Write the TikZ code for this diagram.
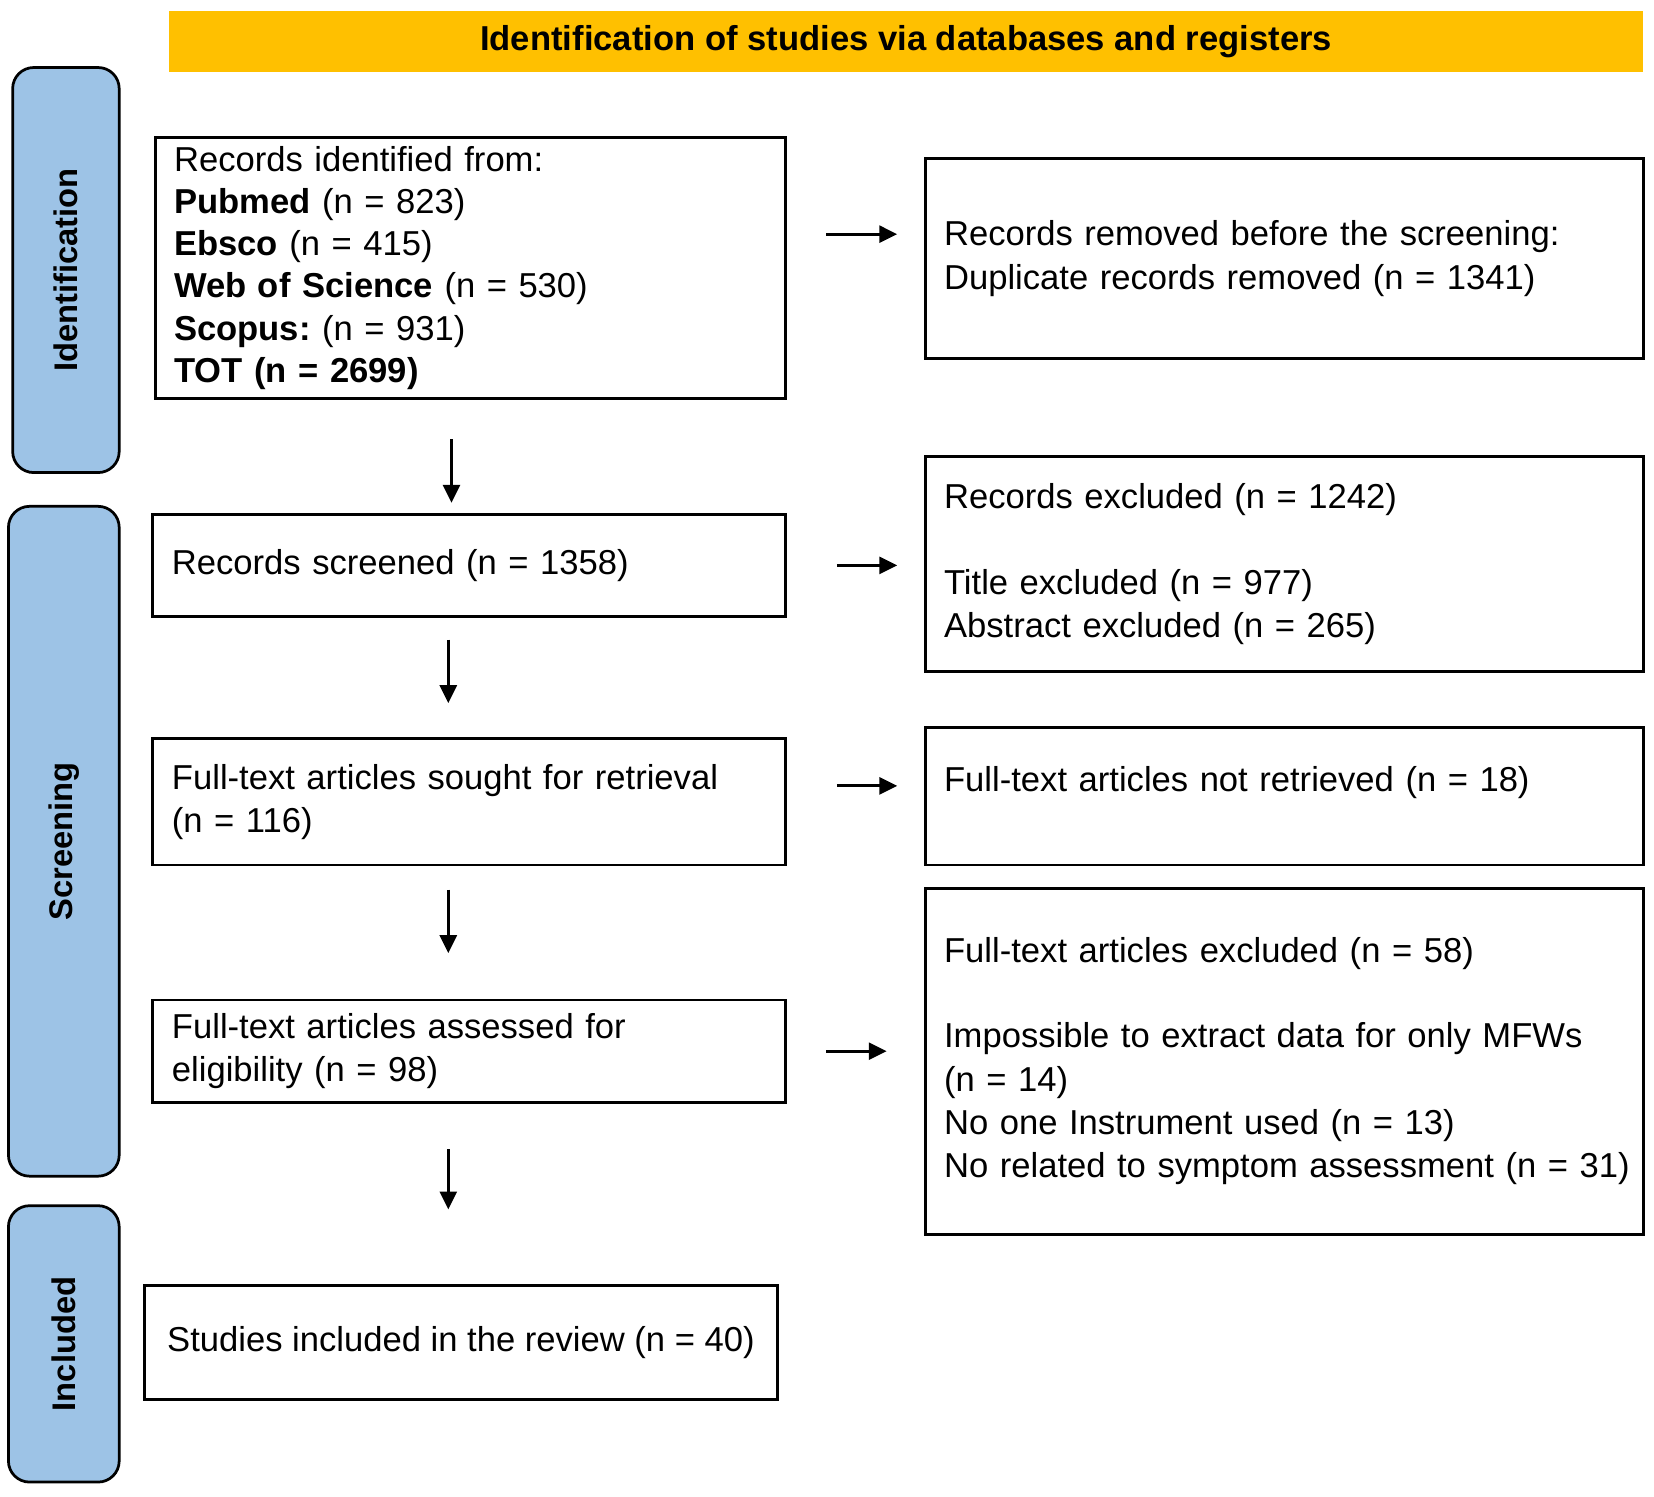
\documentclass[tikz,border=0pt]{standalone}
\usepackage{fontspec}
\setmainfont{Liberation Sans}
\frenchspacing
\definecolor{bandyellow}{HTML}{FFC000}
\definecolor{phaseblue}{HTML}{9DC3E6}
\usetikzlibrary{
  arrows.meta,
  positioning,
  calc
}
\tikzset{
  every node/.style={font=\fontsize{16.4}{20.5}\selectfont, text=black},
  box/.style={
    draw=black,
    line width=1.4pt,
    align=left,
    inner xsep=9pt,
    inner ysep=0pt
  },
  band/.style={fill=bandyellow, minimum width=699pt, minimum height=29pt, font=\fontsize{16.4}{20}\selectfont\bfseries},
  phase/.style={
    draw=black,
    fill=phaseblue,
    rounded corners=10pt,
    line width=1.3pt,
    rotate=90,
    inner sep=0pt,
    font=\fontsize{15.5}{18}\selectfont\bfseries
  },
  arrow/.style={-{Triangle[length=8.5pt,width=8pt]}, line width=1.5pt, draw=black}
}

\begin{document}
\begin{tikzpicture}[x=0.5pt, y=-0.5pt]
  \useasboundingbox (0,0) rectangle (1568,1419);

  % header and phases
  \node[band] (title) at (859,39) {Identification of studies via databases and registers};
  \node[phase, minimum width=192pt, minimum height=50.5pt] (ident) at (62.5,256) {Identification};
  \node[phase, minimum width=317.5pt, minimum height=52.5pt] (screen) at (60.5,797.5) {Screening};
  \node[phase, minimum width=131pt, minimum height=52.5pt] (incl) at (60.5,1274) {Included};

  % left column
  \node[box, text width=281pt, minimum height=124pt, font=\fontsize{16.4}{20}\selectfont] (records) at (446,254)
    {Records identified from:\\
     \textbf{Pubmed} (n = 823)\\
     \textbf{Ebsco} (n = 415)\\
     \textbf{Web of Science} (n = 530)\\
     \textbf{Scopus:} (n = 931)\\
     \textbf{TOT (n = 2699)}};
  \node[box, text width=282pt, minimum height=48pt] (screened) at (445,536)
    {Records screened (n = 1358)};
  \node[box, text width=282pt, minimum height=60pt] (sought) at (445,760)
    {Full-text articles sought for retrieval\\(n = 116)};
  \node[box, text width=282pt, minimum height=48.5pt] (assessed) at (445,996.5)
    {Full-text articles assessed for\\eligibility (n = 98)};
  \node[box, align=center, minimum width=300pt, minimum height=54pt] (included) at (437,1273)
    {Studies included in the review (n = 40)};

  % right column
  \node[box, text width=322.5pt, minimum height=95pt] (removed) at (1217.5,245)
    {Records removed before the screening:\\Duplicate records removed (n = 1341)};
  \node[box, text width=322.5pt, minimum height=102pt] (excluded) at (1217.5,535)
    {Records excluded (n = 1242)\\[20pt]
     Title excluded (n = 977)\\
     Abstract excluded (n = 265)};
  \node[box, text width=322.5pt, minimum height=65pt, text depth=17pt] (notretr) at (1217.5,755)
    {Full-text articles not retrieved (n = 18)};
  \node[box, text width=322.5pt, minimum height=164pt] (ftexcl) at (1217.5,1006)
    {Full-text articles excluded (n = 58)\\[20pt]
     Impossible to extract data for only MFWs\\
     (n = 14)\\
     No one Instrument used (n = 13)\\
     \mbox{No related to symptom assessment (n = 31)}};

  % arrows
  \draw[arrow, shorten <=18.5pt, shorten >=12.5pt] ([yshift=16pt]records.east) -- ([yshift=16pt]records.east -| removed.west);
  \draw[arrow, shorten <=23.5pt, shorten >=12.5pt] (screened.east) -- (screened.east -| excluded.west);
  \draw[arrow, shorten <=23.5pt, shorten >=12.5pt] ([yshift=7.5pt]sought.east) -- ([yshift=7.5pt]sought.east -| notretr.west);
  \draw[arrow, shorten <=18.5pt, shorten >=17.5pt] (assessed.east) -- (assessed.east -| ftexcl.west);

  \draw[arrow, shorten <=18.5pt, shorten >=5pt] ([xshift=-9pt]records.south) -- ([xshift=-9pt]records.south |- screened.north);
  \draw[arrow, shorten <=10.5pt, shorten >=16pt] ([xshift=-10pt]screened.south) -- ([xshift=-10pt]screened.south |- sought.north);
  \draw[arrow, shorten <=11pt, shorten >=21.5pt] ([xshift=-10pt]sought.south) -- ([xshift=-10pt]sought.south |- assessed.north);
  \draw[arrow, shorten <=21.5pt, shorten >=35.5pt] ([xshift=-10pt]assessed.south) -- ([xshift=-10pt]assessed.south |- included.north);
\end{tikzpicture}
\end{document}
